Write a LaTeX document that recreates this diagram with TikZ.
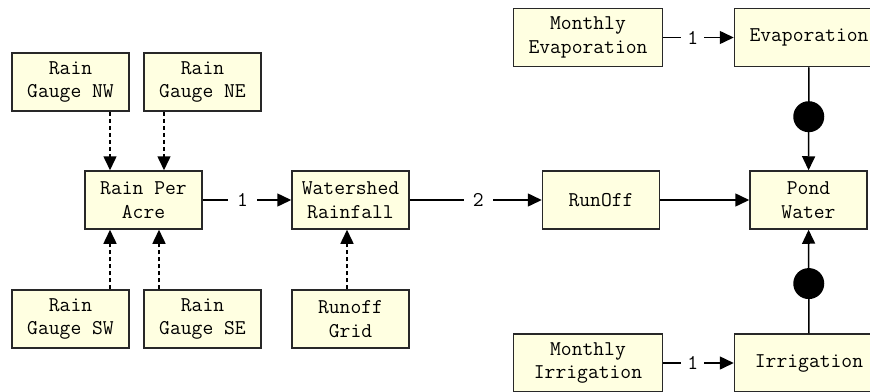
\documentclass[tikz,border=0pt]{standalone}
\usepackage{xcolor}
\usetikzlibrary{arrows.meta}
\definecolor{boxfill}{RGB}{255,255,225}
\definecolor{boxline}{RGB}{40,40,40}

\begin{document}
\begin{tikzpicture}[x=1pt, y=-1pt,
  every node/.style={font=\ttfamily\fontsize{21}{23.5}\selectfont},
  block/.style={draw=boxline, line width=1.5pt, fill=boxfill, align=center,
    minimum width=117, minimum height=58, inner sep=0pt},
  wideblock/.style={block, minimum width=149},
  flow/.style={line width=1.5pt, -{Triangle[length=14pt,width=13pt]}},
  dep/.style={flow, dash pattern=on 4pt off 3pt},
  lbl/.style={fill=white, inner xsep=9pt, inner ysep=1pt},
  dot/.style={circle, fill=black, minimum size=31, inner sep=0pt}]
  \useasboundingbox[fill=white] (0,0) rectangle (870,391);

  % Rain gauges and rain per acre
  \node[block] (rgnw) at (70.5,82) {Rain\\Gauge NW};
  \node[block] (rgne) at (202.5,82) {Rain\\Gauge NE};
  \node[block] (rpa) at (143.5,200) {Rain Per\\Acre};
  \node[block] (rgsw) at (70.5,319) {Rain\\Gauge SW};
  \node[block] (rgse) at (202.5,319) {Rain\\Gauge SE};

  % Watershed
  \node[block] (wsr) at (350.5,200) {Watershed\\Rainfall};
  \node[block] (rgrid) at (350.5,319) {Runoff\\Grid};
  \node[block] (runoff) at (601,200) {RunOff};

  % Pond
  \node[block] (pond) at (808.5,200) {Pond\\Water};
  \node[wideblock] (mevap) at (588,37.5) {Monthly\\Evaporation};
  \node[wideblock] (evap) at (809,37.5) {Evaporation};
  \node[wideblock] (mirr) at (588,363) {Monthly\\Irrigation};
  \node[wideblock] (irr) at (809,363) {Irrigation};

  % dashed inputs
  \draw[dep] ([xshift=39.5]rgnw.south) -- ([xshift=-33.5]rpa.north);
  \draw[dep] ([xshift=-38.5]rgne.south) -- ([xshift=20.5]rpa.north);
  \draw[dep] ([xshift=39.5]rgsw.north) -- ([xshift=-33.5]rpa.south);
  \draw[dep] ([xshift=-43.5]rgse.north) -- ([xshift=15.5]rpa.south);
  \draw[dep] ([xshift=-3.5]rgrid.north) -- ([xshift=-3.5]wsr.south);

  % flows
  \draw[flow] (rpa) -- node[lbl, pos=0.45] {1} (wsr);
  \draw[flow] (wsr) -- node[lbl, pos=0.52] {2} (runoff);
  \draw[flow] (runoff) -- (pond);
  \draw[flow] (mevap) -- node[lbl, pos=0.42, inner xsep=6pt] {1} (evap);
  \draw[flow] (mirr) -- node[lbl, pos=0.42, inner xsep=6pt] {1} (irr);
  \draw[flow] (evap) -- node[dot, pos=0.48] {} (pond);
  \draw[flow] (irr) -- node[dot, pos=0.48] {} (pond);
\end{tikzpicture}
\end{document}
